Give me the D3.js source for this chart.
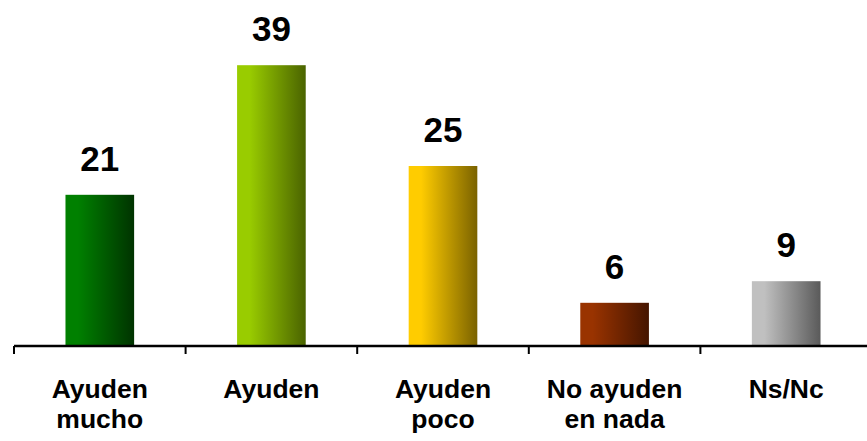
<!DOCTYPE html>
<html>
<head>
<meta charset="utf-8">
<script src="https://cdn.jsdelivr.net/npm/d3@7"></script>
<style>
  html, body { margin: 0; padding: 0; background: #fff; }
  svg { display: block; }
  text { font-family: "Liberation Sans", Arial, sans-serif; font-weight: bold; fill: #000; }
</style>
</head>
<body>
<svg id="chart" width="867" height="441"></svg>
<script>
// Survey answers and their percentages
const categories = [["Ayuden", "mucho"], ["Ayuden"], ["Ayuden", "poco"], ["No ayuden", "en nada"], ["Ns/Nc"]];
const values = [21, 39, 25, 6, 9];
// Light (left edge) and dark (right edge) shade for each bar
const lightColors = ["#008000", "#99cc00", "#ffcc00", "#993300", "#c0c0c0"];
const darkColors  = ["#003300", "#4a6300", "#7a6200", "#451500", "#5a5a5a"];

const svg = d3.select("#chart");
const baseY = 346;
const left = 14, right = 872;

const x = d3.scaleBand()
  .domain(d3.range(values.length))
  .range([left, right])
  .paddingInner(0)
  .paddingOuter(0);

const y = d3.scaleLinear().domain([0, 45]).range([baseY, baseY - 45 * 7.2]);

const barW = x.bandwidth() * 0.4;

// Horizontal gradients per bar
const defs = svg.append("defs");
values.forEach((v, i) => {
  const g = defs.append("linearGradient")
    .attr("id", "grad" + i)
    .attr("x1", "0%").attr("x2", "100%").attr("y1", "0%").attr("y2", "0%");
  g.append("stop").attr("offset", "0%").attr("stop-color", lightColors[i]);
  g.append("stop").attr("offset", "18%").attr("stop-color", lightColors[i]);
  g.append("stop").attr("offset", "100%").attr("stop-color", darkColors[i]);
});

// Bars
svg.selectAll("rect.bar")
  .data(values)
  .join("rect")
  .attr("class", "bar")
  .attr("x", (d, i) => x(i) + (x.bandwidth() - barW) / 2)
  .attr("y", d => y(d))
  .attr("width", barW)
  .attr("height", d => baseY - y(d))
  .attr("fill", (d, i) => `url(#grad${i})`);

// Value labels above bars
svg.selectAll("text.val")
  .data(values)
  .join("text")
  .attr("class", "val")
  .attr("x", (d, i) => x(i) + x.bandwidth() / 2)
  .attr("y", d => y(d) - 24)
  .attr("text-anchor", "middle")
  .style("font-size", "35px")
  .text(d => d);

// Category axis: baseline with ticks at band boundaries
svg.append("line")
  .attr("x1", left).attr("x2", 867)
  .attr("y1", baseY).attr("y2", baseY)
  .attr("stroke", "#000").attr("stroke-width", 2.5);

const boundaries = d3.range(values.length + 1).map(i => left + i * x.step());
svg.selectAll("line.tick")
  .data(boundaries)
  .join("line")
  .attr("class", "tick")
  .attr("x1", d => d).attr("x2", d => d)
  .attr("y1", baseY).attr("y2", baseY + 8)
  .attr("stroke", "#000").attr("stroke-width", 2);

// Category labels (wrapped to two lines where needed)
const labels = svg.selectAll("text.cat")
  .data(categories)
  .join("text")
  .attr("class", "cat")
  .attr("text-anchor", "middle")
  .style("font-size", "26.5px");

labels.each(function (lines, i) {
  const t = d3.select(this);
  lines.forEach((line, j) => {
    t.append("tspan")
      .attr("x", x(i) + x.bandwidth() / 2)
      .attr("y", 398 + j * 30)
      .text(line);
  });
});
</script>
</body>
</html>
